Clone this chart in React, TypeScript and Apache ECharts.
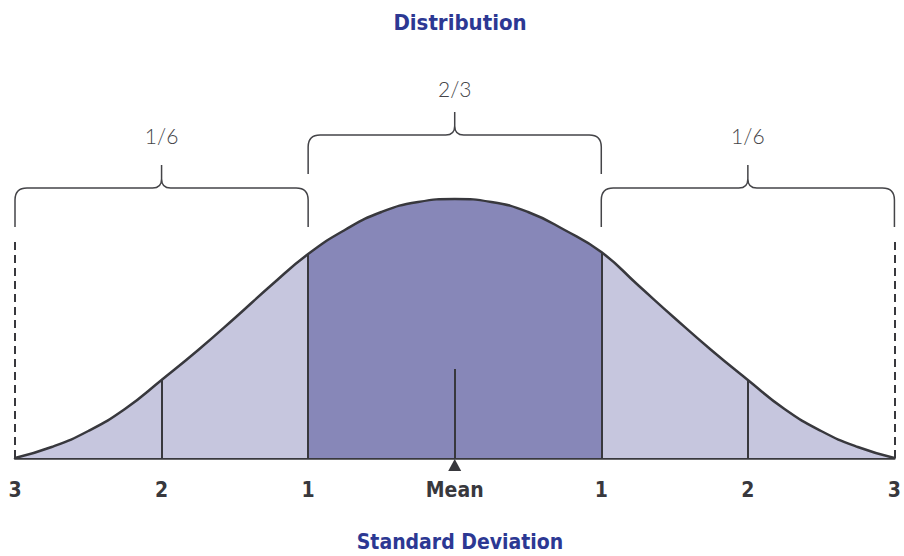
import React, { useEffect, useRef } from "react";
import * as echarts from "echarts";

// Curve samples (sigma, height above baseline)
const sigmas = [-3, -2.75, -2.5, -2.25, -2, -1.75, -1.5, -1.25, -1, -0.75, -0.5, -0.25, 0, 0.25, 0.5, 0.75, 1, 1.25, 1.5, 1.75, 2, 2.25, 2.5, 2.75, 3];
const heights = [0, 11, 27, 49, 78, 108, 140, 173, 204, 228, 246, 256, 259, 256, 246, 228, 206, 173, 140, 108, 78, 49, 27, 11, 0];
const tickLabels = ["3", "2", "1", "Mean", "1", "2", "3"];
const dividerSigmas = [-2, -1, 1, 2];
const tailSigmas = [-3, 3];
const braceFrom = [-3, -1, 1];
const braceTo = [-1, 1, 3];
const braceLabels = ["1/6", "2/3", "1/6"];
const meanLineHeight = 89;
const tailLineHeight = 216;

const LIGHT = "#c6c6de";
const DARK = "#8787b8";
const INK = "#38383d";
const BLUE = "#2c3893";
const BOLD_FONT = "'Liberation Sans Narrow', 'DejaVu Sans Condensed', 'Liberation Sans', sans-serif";

const heightAt = (s: number) => heights[sigmas.indexOf(s)];

export default function App() {
  const ref = useRef<HTMLDivElement>(null);
  useEffect(() => {
    if (!ref.current) return;
    const chart = echarts.init(ref.current, undefined, { renderer: "svg" });
    const curve = sigmas.map((s, i) => [s, heights[i]]);

    const markLines: any[] = [];
    dividerSigmas.forEach((s) => {
      markLines.push([{ coord: [s, 0] }, { coord: [s, heightAt(s)] }]);
    });
    markLines.push([{ coord: [0, 0] }, { coord: [0, meanLineHeight] }]);
    tailSigmas.forEach((s) => {
      markLines.push([
        { coord: [s, 0], lineStyle: { type: [8, 5], width: 2, color: INK } },
        { coord: [s, tailLineHeight] },
      ]);
    });

    const braceData = braceFrom.map((f, i) => [f, braceTo[i], i]);

    chart.setOption({
      animation: false,
      grid: { left: 15, right: 5, top: 198, bottom: 98 },
      xAxis: {
        type: "value",
        min: -3,
        max: 3,
        interval: 1,
        axisLine: { show: true, lineStyle: { color: INK, width: 2.5 } },
        axisTick: { show: false },
        splitLine: { show: false },
        axisLabel: {
          margin: 21,
          fontSize: 21,
          fontWeight: "bold",
          fontFamily: BOLD_FONT,
          color: INK,
          formatter: (v: number) => tickLabels[Math.round(v) + 3],
        },
      },
      yAxis: { type: "value", min: 0, max: 260, show: false },
      visualMap: {
        type: "piecewise",
        show: false,
        dimension: 0,
        seriesIndex: 0,
        pieces: [
          { lt: -1, color: LIGHT },
          { gte: -1, lte: 1, color: DARK },
          { gt: 1, color: LIGHT },
        ],
      },
      series: [
        {
          type: "line",
          data: curve,
          smooth: true,
          symbol: "none",
          silent: true,
          lineStyle: { width: 0, opacity: 0 },
          areaStyle: { opacity: 1 },
          z: 1,
        },
        {
          type: "line",
          data: curve,
          smooth: true,
          symbol: "none",
          silent: true,
          lineStyle: { width: 2.5, color: INK },
          z: 3,
          markLine: {
            silent: true,
            symbol: "none",
            label: { show: false },
            lineStyle: { type: "solid", width: 2, color: INK },
            data: markLines,
          },
          markPoint: {
            silent: true,
            symbol: "triangle",
            symbolSize: [13, 12],
            symbolOffset: [0, 7],
            itemStyle: { color: INK },
            label: { show: false },
            data: [{ coord: [0, 0] }],
          },
        },
        {
          type: "custom",
          coordinateSystem: "cartesian2d",
          silent: true,
          clip: false,
          z: 4,
          encode: { x: [0, 1] },
          data: braceData,
          renderItem: (params: any, api: any) => {
            const from = api.value(0);
            const to = api.value(1);
            const idx = api.value(2);
            const level = idx === 1 ? 323 : 270;
            const p1 = api.coord([from, level]);
            const p2 = api.coord([to, level]);
            const x1 = p1[0];
            const x2 = p2[0];
            const yH = p1[1];
            const xm = (x1 + x2) / 2;
            const yEnd = yH + 39;
            const yTip = yH - 23;
            const r = 12;
            const r2 = 9;
            const d =
              `M${x1} ${yEnd} L${x1} ${yH + r} Q${x1} ${yH} ${x1 + r} ${yH} L${xm - r2} ${yH} ` +
              `Q${xm} ${yH} ${xm} ${yH - r2} L${xm} ${yTip} ` +
              `M${xm} ${yH - r2} Q${xm} ${yH} ${xm + r2} ${yH} L${x2 - r} ${yH} ` +
              `Q${x2} ${yH} ${x2} ${yH + r} L${x2} ${yEnd}`;
            return {
              type: "group",
              children: [
                {
                  type: "path",
                  shape: { pathData: d },
                  style: { fill: "none", stroke: "#444448", lineWidth: 1.5 },
                },
                {
                  type: "text",
                  style: {
                    text: braceLabels[idx],
                    x: xm,
                    y: yTip - (idx === 1 ? 24 : 30),
                    align: "center",
                    verticalAlign: "middle",
                    fontSize: 21,
                    fontWeight: 300,
                    fontFamily: "Lato, 'Open Sans', sans-serif",
                    fill: "#444448",
                  },
                },
              ],
            };
          },
        },
      ],
      graphic: [
        {
          type: "text",
          x: 460,
          y: 22,
          style: {
            text: "Distribution",
            align: "center",
            verticalAlign: "middle",
            fontSize: 22,
            fontWeight: "bold",
            fontFamily: BOLD_FONT,
            fill: BLUE,
          },
        },
        {
          type: "text",
          x: 460,
          y: 542,
          style: {
            text: "Standard Deviation",
            align: "center",
            verticalAlign: "middle",
            fontSize: 21,
            fontWeight: "bold",
            fontFamily: BOLD_FONT,
            fill: BLUE,
          },
        },
      ],
    });
    return () => chart.dispose();
  }, []);
  return (
    <div
      ref={ref}
      style={{ position: "absolute", left: 0, top: 0, width: 904, height: 556 }}
    />
  );
}
